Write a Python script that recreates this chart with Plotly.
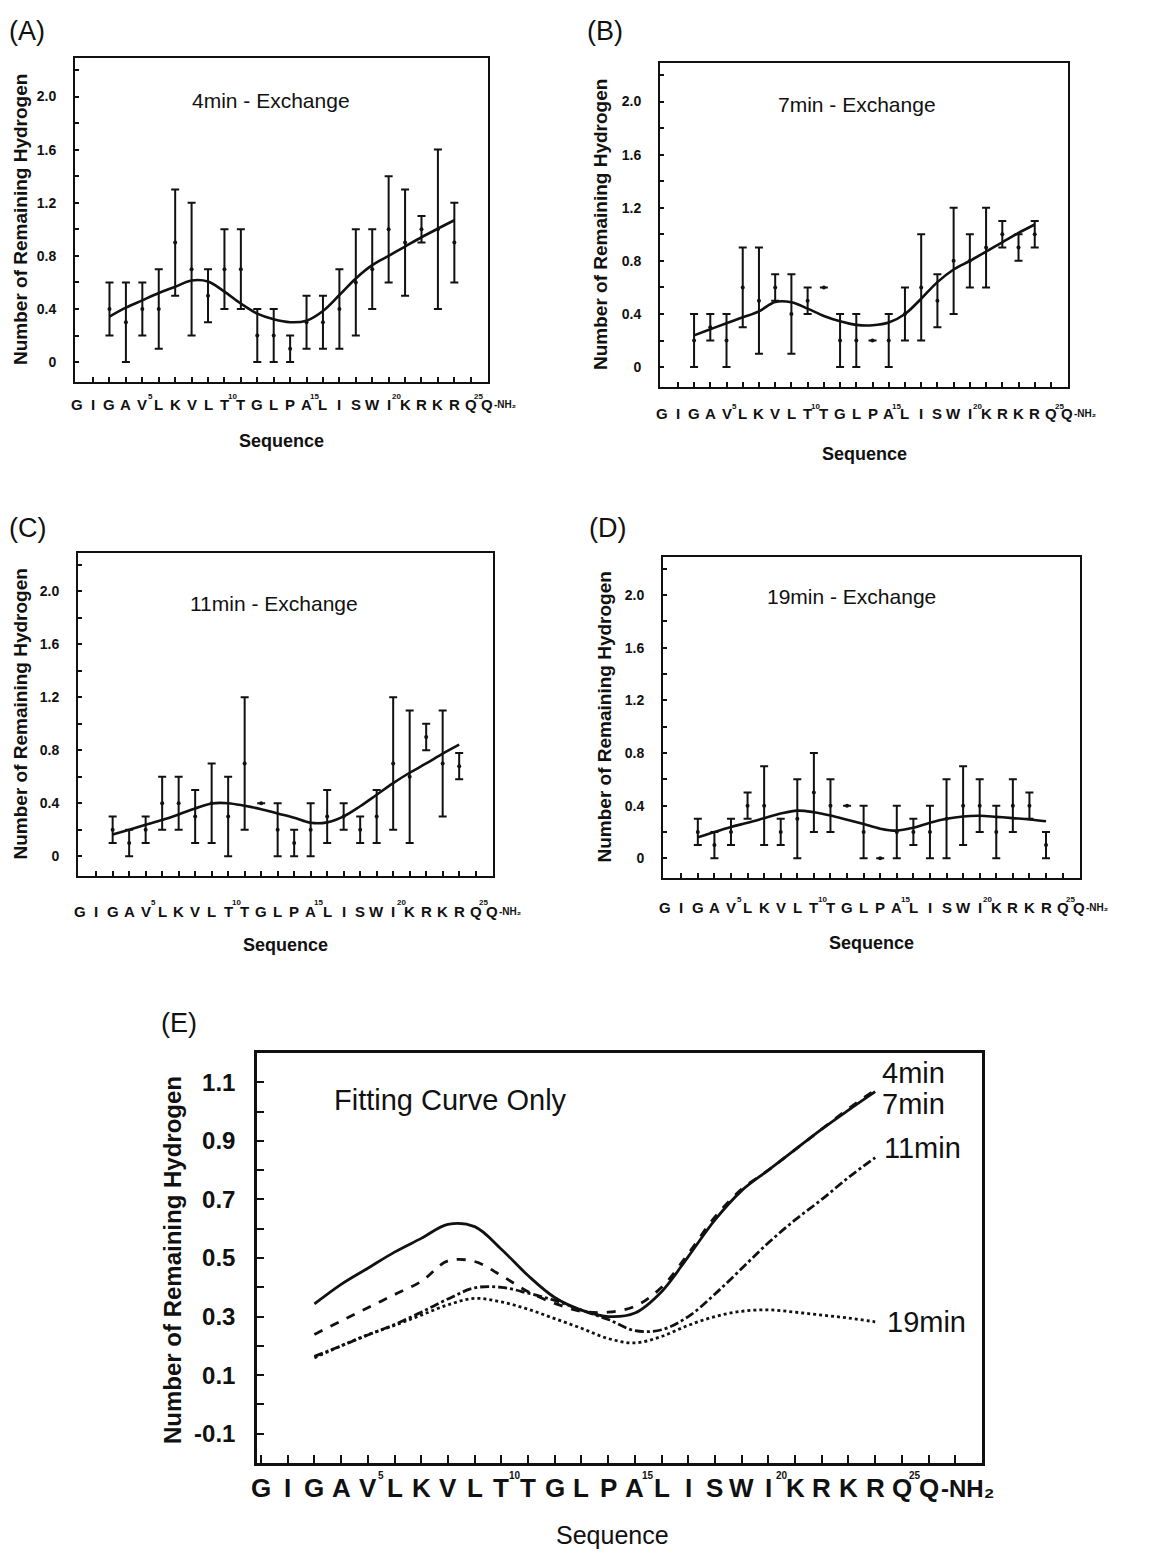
import plotly.graph_objects as go

W, H = 1167, 1557

# ---------------- data ----------------
residues = list(range(3, 25))
sequence = list("GIGAVLKVLTTGLPALISWIKRKRQQ")
sup_numbers = {5: "5", 10: "10", 15: "15", 20: "20", 25: "25"}
c_terminus = "-NH₂"

A_mean = [0.4, 0.3, 0.4, 0.4, 0.9, 0.7, 0.5, 0.7, 0.7, 0.2, 0.2, 0.1, 0.3, 0.3, 0.4, 0.6, 0.7, 1.0, 0.9, 1.0, 1.0, 0.9]
A_err = [0.2, 0.3, 0.2, 0.3, 0.4, 0.5, 0.2, 0.3, 0.3, 0.2, 0.2, 0.1, 0.2, 0.2, 0.3, 0.4, 0.3, 0.4, 0.4, 0.1, 0.6, 0.3]

B_mean = [0.2, 0.3, 0.2, 0.6, 0.5, 0.6, 0.4, 0.5, 0.6, 0.2, 0.2, 0.2, 0.2, 0.4, 0.6, 0.5, 0.8, 0.8, 0.9, 1.0, 0.9, 1.0]
B_err = [0.2, 0.1, 0.2, 0.3, 0.4, 0.1, 0.3, 0.1, None, 0.2, 0.2, None, 0.2, 0.2, 0.4, 0.2, 0.4, 0.2, 0.3, 0.1, 0.1, 0.1]

C_mean = [0.2, 0.1, 0.2, 0.4, 0.4, 0.3, 0.4, 0.3, 0.7, 0.4, 0.2, 0.1, 0.2, 0.3, 0.3, 0.2, 0.3, 0.7, 0.6, 0.9, 0.7, 0.68]
C_err = [0.1, 0.1, 0.1, 0.2, 0.2, 0.2, 0.3, 0.3, 0.5, None, 0.2, 0.1, 0.2, 0.2, 0.1, 0.1, 0.2, 0.5, 0.5, 0.1, 0.4, 0.1]

D_mean = [0.2, 0.1, 0.2, 0.4, 0.4, 0.2, 0.3, 0.5, 0.4, 0.4, 0.2, 0.0, 0.2, 0.2, 0.2, 0.3, 0.4, 0.4, 0.2, 0.4, 0.4, 0.1]
D_err = [0.1, 0.1, 0.1, 0.1, 0.3, 0.1, 0.3, 0.3, 0.2, None, 0.2, None, 0.2, 0.1, 0.2, 0.3, 0.3, 0.2, 0.2, 0.2, 0.1, 0.1]

fit_4 = [0.343, 0.41, 0.465, 0.52, 0.567, 0.615, 0.607, 0.53, 0.44, 0.365, 0.322, 0.300, 0.312, 0.385, 0.505, 0.630, 0.730, 0.800, 0.870, 0.940, 1.005, 1.068]
fit_7 = [0.239, 0.285, 0.33, 0.375, 0.42, 0.49, 0.488, 0.44, 0.385, 0.345, 0.318, 0.315, 0.335, 0.40, 0.515, 0.64, 0.735, 0.80, 0.87, 0.94, 1.01, 1.074]
fit_11 = [0.164, 0.20, 0.237, 0.273, 0.315, 0.36, 0.398, 0.40, 0.38, 0.355, 0.322, 0.29, 0.252, 0.255, 0.30, 0.377, 0.464, 0.552, 0.63, 0.70, 0.775, 0.843]
fit_19 = [0.159, 0.20, 0.238, 0.27, 0.305, 0.34, 0.362, 0.35, 0.325, 0.293, 0.26, 0.225, 0.21, 0.232, 0.27, 0.30, 0.318, 0.323, 0.315, 0.305, 0.295, 0.282]

panel_titles = ["4min - Exchange", "7min - Exchange", "11min - Exchange", "19min - Exchange"]
curve_labels = ["4min", "7min", "11min", "19min"]

ab_yticks = [0, 0.2, 0.4, 0.6, 0.8, 1.0, 1.2, 1.4, 1.6, 1.8, 2.0, 2.2]
ab_yticktext = ["0", "", "0.4", "", "0.8", "", "1.2", "", "1.6", "", "2.0", ""]
e_yticks = [-0.1, 0.0, 0.1, 0.2, 0.3, 0.4, 0.5, 0.6, 0.7, 0.8, 0.9, 1.0, 1.1]
e_yticktext = ["-0.1", "", "0.1", "", "0.3", "", "0.5", "", "0.7", "", "0.9", "", "1.1"]

# ---------------- style ----------------
NARROW = "Liberation Sans Narrow, Arial Narrow, Liberation Sans, Arial, sans-serif"
SANS = "Liberation Sans, Arial, Helvetica, sans-serif"
BLACK = "#111111"
AB_XRANGE = [0.9, 26.05]
E_XRANGE = [0.85, 28.0]


def fx(p):
    return p / W


def fy(p):
    return 1 - p / H


# pixel boxes: (left, right, top, bottom)
boxes = [(75, 488, 58, 382), (660, 1068, 63, 387), (78, 493, 553, 876), (663, 1080, 557, 878), (257, 982, 1053, 1463)]

fig = go.Figure()
layout = dict(width=W, height=H, margin=dict(l=0, r=0, t=0, b=0),
              paper_bgcolor="white", plot_bgcolor="white", showlegend=False)
annotations = []

means = [A_mean, B_mean, C_mean, D_mean]
errs = [A_err, B_err, C_err, D_err]
fits = [fit_4, fit_7, fit_11, fit_19]
panel_tags = ["(A)", "(B)", "(C)", "(D)", "(E)"]
tag_pos = [(7, 31), (585, 31), (7, 528), (587, 528), (159, 1023)]

seq_y = [404, 414, 911, 907]
seqtitle_y = [441, 454, 945, 943]
title_pos = [(271, 101), (857, 105), (274, 603), (851, 596)]
ytitle_x = [20, 601, 20, 604]


def paper_x_of(res, rng, l, r):
    return fx(l + (res - rng[0]) / (rng[1] - rng[0]) * (r - l))


for i in range(4):
    n = i + 1
    xa = "x" if n == 1 else f"x{n}"
    ya = "y" if n == 1 else f"y{n}"
    l, r, t, b = boxes[i]
    fig.add_trace(go.Scatter(
        x=residues, y=means[i], mode="markers", xaxis=xa, yaxis=ya,
        marker=dict(color=BLACK, size=4),
        error_y=dict(type="data", array=errs[i], symmetric=True, color=BLACK, thickness=2, width=4),
    ))
    fig.add_trace(go.Scatter(
        x=residues, y=fits[i], mode="lines", xaxis=xa, yaxis=ya,
        line=dict(color=BLACK, width=2.6, shape="spline"),
    ))
    layout["xaxis" if n == 1 else f"xaxis{n}"] = dict(
        domain=[fx(l), fx(r)], range=AB_XRANGE, anchor=ya,
        tickvals=list(range(2, 26)), ticks="inside", ticklen=5, tickwidth=1.5, tickcolor=BLACK,
        showticklabels=False, showgrid=False, zeroline=False,
        showline=True, linecolor=BLACK, linewidth=2, mirror=True,
    )
    layout["yaxis" if n == 1 else f"yaxis{n}"] = dict(
        domain=[fy(b), fy(t)], range=[-0.15, 2.29], anchor=xa,
        tickvals=ab_yticks, ticktext=ab_yticktext, ticks="inside", ticklen=4, tickwidth=1.5,
        tickcolor=BLACK, ticklabelstandoff=14,
        tickfont=dict(family=NARROW, size=14, color=BLACK, weight="bold"),
        showgrid=False, zeroline=False,
        showline=True, linecolor=BLACK, linewidth=2, mirror=True,
    )
    annotations.append(dict(text=panel_titles[i], x=fx(title_pos[i][0]), y=fy(title_pos[i][1]),
                            xref="paper", yref="paper", showarrow=False, xanchor="center", yanchor="middle",
                            font=dict(family=NARROW, size=21, color=BLACK)))
    annotations.append(dict(text="Number of Remaining Hydrogen", x=fx(ytitle_x[i]), y=fy((t + b) / 2),
                            xref="paper", yref="paper", showarrow=False, textangle=-90,
                            xanchor="center", yanchor="middle",
                            font=dict(family=NARROW, size=19, color=BLACK, weight="bold")))
    annotations.append(dict(text="Sequence", x=fx((l + r) / 2), y=fy(seqtitle_y[i]),
                            xref="paper", yref="paper", showarrow=False, xanchor="center", yanchor="middle",
                            font=dict(family=NARROW, size=18, color=BLACK, weight="bold")))
    for k, ch in enumerate(sequence):
        res = k + 1
        annotations.append(dict(text=ch, x=paper_x_of(res, AB_XRANGE, l, r), y=fy(seq_y[i]),
                                xref="paper", yref="paper", showarrow=False,
                                xanchor="center", yanchor="middle",
                                font=dict(family=NARROW, size=15, color=BLACK, weight="bold")))
        if res in sup_numbers:
            annotations.append(dict(text=sup_numbers[res], x=paper_x_of(res + 0.5, AB_XRANGE, l, r),
                                    y=fy(seq_y[i] - 8), xref="paper", yref="paper", showarrow=False,
                                    xanchor="center", yanchor="middle",
                                    font=dict(family=NARROW, size=8, color=BLACK, weight="bold")))
    annotations.append(dict(text=c_terminus, x=paper_x_of(27.1, AB_XRANGE, l, r), y=fy(seq_y[i]),
                            xref="paper", yref="paper", showarrow=False, xanchor="center", yanchor="middle",
                            font=dict(family=NARROW, size=10, color=BLACK, weight="bold")))

# ---------------- panel E ----------------
l, r, t, b = boxes[4]
styles = ["solid", "dash", "dashdot", "dot"]
for fit, dash in zip(fits, styles):
    fig.add_trace(go.Scatter(x=residues, y=fit, mode="lines", xaxis="x5", yaxis="y5",
                             line=dict(color=BLACK, width=2.8, dash=dash, shape="spline")))
layout["xaxis5"] = dict(
    domain=[fx(l), fx(r)], range=E_XRANGE, anchor="y5",
    tickvals=list(range(1, 28)), ticks="inside", ticklen=8, tickwidth=2, tickcolor=BLACK,
    showticklabels=False, showgrid=False, zeroline=False,
    showline=True, linecolor=BLACK, linewidth=2.5, mirror=True,
)
layout["yaxis5"] = dict(
    domain=[fy(b), fy(t)], range=[-0.2, 1.2], anchor="x5",
    tickvals=e_yticks, ticktext=e_yticktext, ticks="inside", ticklen=7, tickwidth=2, tickcolor=BLACK,
    ticklabelstandoff=14,
    tickfont=dict(family=SANS, size=24, color=BLACK, weight="bold"),
    showgrid=False, zeroline=False,
    showline=True, linecolor=BLACK, linewidth=2.5, mirror=True,
)
annotations.append(dict(text="Fitting Curve Only", x=fx(450), y=fy(1100), xref="paper", yref="paper",
                        showarrow=False, xanchor="center", yanchor="middle",
                        font=dict(family=SANS, size=29, color=BLACK)))
label_pos = [(880, 1073), (880, 1104), (882, 1148), (885, 1322)]
for txt, (px_, py_) in zip(curve_labels, label_pos):
    annotations.append(dict(text=txt, x=fx(px_), y=fy(py_), xref="paper", yref="paper", showarrow=False,
                            xanchor="left", yanchor="middle",
                            font=dict(family=NARROW, size=29, color=BLACK)))
annotations.append(dict(text="Number of Remaining Hydrogen", x=fx(172), y=fy((t + b) / 2 + 2),
                        xref="paper", yref="paper", showarrow=False, textangle=-90,
                        xanchor="center", yanchor="middle",
                        font=dict(family=SANS, size=24, color=BLACK, weight="bold")))
annotations.append(dict(text="Sequence", x=fx(612), y=fy(1535), xref="paper", yref="paper",
                        showarrow=False, xanchor="center", yanchor="middle",
                        font=dict(family=SANS, size=25, color=BLACK)))
for k, ch in enumerate(sequence):
    res = k + 1
    annotations.append(dict(text=ch, x=paper_x_of(res, E_XRANGE, l, r), y=fy(1488), xref="paper",
                            yref="paper", showarrow=False, xanchor="center", yanchor="middle",
                            font=dict(family=SANS, size=26, color=BLACK, weight="bold")))
    if res in sup_numbers:
        annotations.append(dict(text=sup_numbers[res], x=paper_x_of(res + 0.5, E_XRANGE, l, r),
                                y=fy(1475), xref="paper", yref="paper", showarrow=False,
                                xanchor="center", yanchor="middle",
                                font=dict(family=NARROW, size=10, color=BLACK, weight="bold")))
annotations.append(dict(text=c_terminus, x=paper_x_of(27.45, E_XRANGE, l, r), y=fy(1488),
                        xref="paper", yref="paper", showarrow=False, xanchor="center", yanchor="middle",
                        font=dict(family=SANS, size=24, color=BLACK, weight="bold")))

for tag, (px_, py_) in zip(panel_tags, tag_pos):
    annotations.append(dict(text=tag, x=fx(px_), y=fy(py_), xref="paper", yref="paper", showarrow=False,
                            xanchor="left", yanchor="middle", font=dict(family=SANS, size=27, color=BLACK)))

layout["annotations"] = annotations
fig.update_layout(**layout)
fig.write_html("out.html")
